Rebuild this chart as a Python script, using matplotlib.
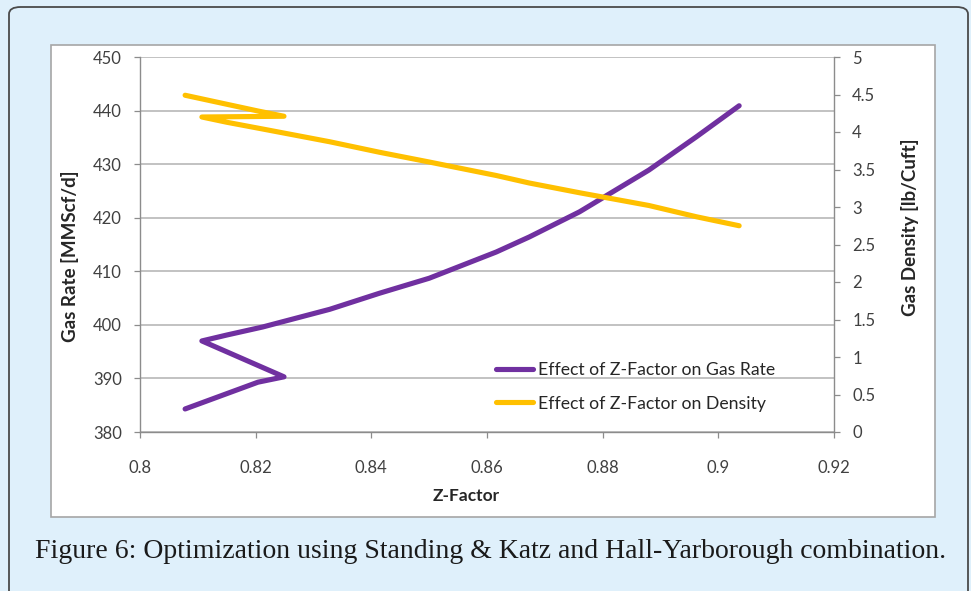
import matplotlib
matplotlib.use("Agg")
import matplotlib.pyplot as plt
from matplotlib.patches import FancyBboxPatch, Rectangle

# ---- data ----
z_factor = [0.8078, 0.8204, 0.8249, 0.8107, 0.8150, 0.8212, 0.8328, 0.8414,
            0.8500, 0.8616, 0.8673, 0.8760, 0.8880, 0.8962, 0.9036]
gas_rate = [384.3, 389.3, 390.3, 397.0, 398.1, 399.6, 402.9, 405.9,
            408.7, 413.6, 416.4, 421.1, 428.9, 435.1, 440.9]
gas_density = [4.49, 4.28, 4.21, 4.20, 4.13, 4.04, 3.87, 3.73,
               3.60, 3.42, 3.32, 3.19, 3.02, 2.87, 2.75]
rate_label = "Effect of Z-Factor on Gas Rate"
density_label = "Effect of Z-Factor on Density"
x_ticks = [0.8, 0.82, 0.84, 0.86, 0.88, 0.9, 0.92]
x_tick_labels = ["0.8", "0.82", "0.84", "0.86", "0.88", "0.9", "0.92"]
left_ticks = [380, 390, 400, 410, 420, 430, 440, 450]
right_ticks = [0, 0.5, 1, 1.5, 2, 2.5, 3, 3.5, 4, 4.5, 5]
right_tick_labels = ["0", "0.5", "1", "1.5", "2", "2.5", "3", "3.5", "4", "4.5", "5"]
caption = "Figure 6: Optimization using Standing & Katz and Hall-Yarborough combination."

W, H = 971, 591
fig = plt.figure(figsize=(W / 100, H / 100), dpi=100)
fig.patch.set_facecolor("#dff0fb")

def fx(x):
    return x / W

def fy(y):
    return 1 - y / H

# outer rounded box
fig.patches.append(FancyBboxPatch((fx(9), fy(620)), fx(968) - fx(9), fy(7) - fy(620),
                                  boxstyle="round,pad=0,rounding_size=0.012",
                                  transform=fig.transFigure, facecolor="#dff0fb",
                                  edgecolor="#4a4a4a", linewidth=1.3, zorder=-3))
# white chart box
fig.patches.append(Rectangle((fx(51), fy(517)), fx(935) - fx(51), fy(45) - fy(517),
                             transform=fig.transFigure, facecolor="white",
                             edgecolor="#a6a6a6", linewidth=1.2, zorder=-2))

FONT = "Lato"
TXT = "#404040"
GRID = "#b8b8b8"
SPINE = "#8c8c8c"

AX_L, AX_R, AX_T, AX_B = 140, 834, 57, 432
ax = fig.add_axes([fx(AX_L), fy(AX_B), fx(AX_R) - fx(AX_L), fy(AX_T) - fy(AX_B)])
ax.set_facecolor("none")
ax2 = ax.twinx()
ax2.set_facecolor("none")

l1, = ax.plot(z_factor, gas_rate, color="#7030a0", linewidth=3.7,
              solid_joinstyle="round", solid_capstyle="round", label=rate_label)
l2, = ax2.plot(z_factor, gas_density, color="#ffc000", linewidth=3.7,
               solid_joinstyle="round", solid_capstyle="round", label=density_label)

ax.set_xlim(0.8, 0.92)
ax.set_ylim(380, 450)
ax2.set_ylim(0, 5)
ax.set_xticks(x_ticks)
ax.set_xticklabels(x_tick_labels)
ax.set_yticks(left_ticks)
ax2.set_yticks(right_ticks)
ax2.set_yticklabels(right_tick_labels)

ax.yaxis.grid(True, color=GRID, linewidth=1.2)
ax.set_axisbelow(True)

for a in (ax, ax2):
    for s in a.spines.values():
        s.set_visible(False)
ax.spines["left"].set_visible(True)
ax.spines["bottom"].set_visible(True)
ax2.spines["right"].set_visible(True)
for s in (ax.spines["left"], ax.spines["bottom"], ax2.spines["right"]):
    s.set_color(SPINE)
    s.set_linewidth(1.0)

ax.tick_params(axis="both", direction="out", length=4.5, width=0.9, color=SPINE,
               labelsize=12, labelcolor=TXT)
ax2.tick_params(axis="y", direction="out", length=4.5, width=0.9, color=SPINE,
                labelsize=12, labelcolor=TXT)
ax.tick_params(axis="x", pad=15.5)
ax.tick_params(axis="y", pad=8.5)
ax2.tick_params(axis="y", pad=8.6)
for lab in ax.get_xticklabels() + ax.get_yticklabels() + ax2.get_yticklabels():
    lab.set_fontfamily(FONT)

AXW, AXH = AX_R - AX_L, AX_B - AX_T
ax.set_xlabel("Z-Factor", fontfamily=FONT, fontweight="bold", fontsize=12.5,
              color="#262626", va="center")
ax.xaxis.set_label_coords((466 - AX_L) / AXW, (AX_B - 496) / AXH)
ax.set_ylabel("Gas Rate [MMScf/d]", fontfamily=FONT, fontweight="bold", fontsize=13.5,
              color="#262626", va="center", ha="center")
ax.yaxis.set_label_coords((70 - AX_L) / AXW, (AX_B - 256) / AXH)
ax2.set_ylabel("Gas Density [lb/Cuft]", fontfamily=FONT, fontweight="bold", fontsize=13.5,
               color="#262626", va="center", ha="center")
ax2.yaxis.set_label_coords((910 - AX_L) / AXW, (AX_B - 227) / AXH)

leg = ax2.legend([l1, l2], [rate_label, density_label], loc="upper left",
                 bbox_to_anchor=(fx(496), fy(362)), bbox_transform=fig.transFigure,
                 frameon=False, prop={"family": FONT, "size": 12.7},
                 handlelength=2.1, handletextpad=0.28, labelspacing=1.0,
                 borderaxespad=0, borderpad=0)
for t in leg.get_texts():
    t.set_color("#262626")

fig.text(fx(35), fy(558), caption, fontfamily="Liberation Serif", fontsize=20,
         color="#1a1a1a", ha="left", va="baseline")

fig.savefig("out.png", dpi=100, facecolor=fig.get_facecolor())
